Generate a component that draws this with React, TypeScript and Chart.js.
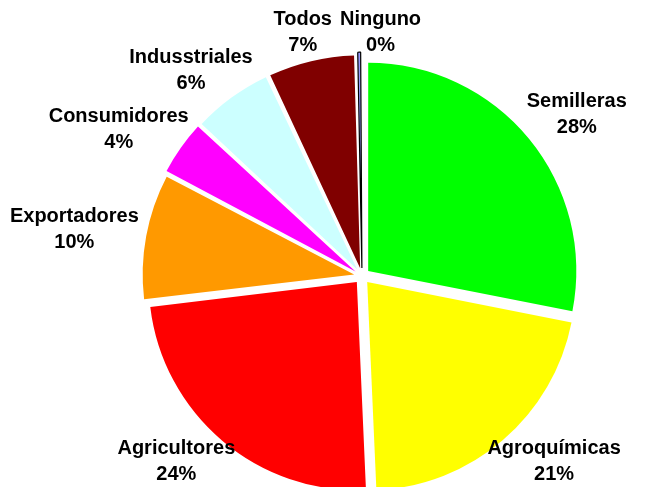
import React, { useEffect, useRef } from "react";
import { Chart, registerables } from "chart.js";

Chart.register(...registerables);

const categories = [
  "Semilleras",
  "Agroquímicas",
  "Agricultores",
  "Exportadores",
  "Consumidores",
  "Indusstriales",
  "Todos",
  "Ninguno",
];
const shares = [28.1, 21.2, 23.8, 9.6, 4.2, 6.1, 6.6, 0.4];
const sliceColors = [
  "#00FF00",
  "#FFFF00",
  "#FF0000",
  "#FF9900",
  "#FF00FF",
  "#CCFFFF",
  "#800000",
  "#9999FF",
];
const sliceBorderWidths = [0, 0, 0, 0, 0, 0, 0, 1.2];

const SHIFT_PX = 8; // visual explode distance (Chart.js divides offset by 4)
const LABEL_GAP = 12;
const LABEL_FONT = 'bold 20px "Liberation Sans", Arial, sans-serif';
const LINE_H = 26;

const labelPlugin = {
  id: "outsideLabels",
  afterDatasetsDraw(chart: any) {
    const ctx = chart.ctx as CanvasRenderingContext2D;
    const meta = chart.getDatasetMeta(0);
    const data = chart.data.datasets[0].data as number[];
    const total = data.reduce((a, b) => a + b, 0);
    ctx.save();
    ctx.font = LABEL_FONT;
    ctx.fillStyle = "#000";
    ctx.textAlign = "center";
    ctx.textBaseline = "middle";
    const placed: { cx: number; cy: number; w: number; h: number }[] = [];
    meta.data.forEach((arc: any, i: number) => {
      const p = arc.getProps(["x", "y", "startAngle", "endAngle", "outerRadius"], true);
      const mid = (p.startAngle + p.endAngle) / 2;
      const dx = Math.cos(mid);
      const dy = Math.sin(mid);
      const R = p.outerRadius + SHIFT_PX + LABEL_GAP;
      const lines = [String(chart.data.labels[i]), Math.round((data[i] / total) * 100) + "%"];
      const w = Math.max(...lines.map((l) => ctx.measureText(l).width));
      const h = LINE_H * lines.length;
      let cx = p.x + dx * R + (dx * w) / 2;
      let cy = p.y + dy * R + (dy * h) / 2;
      cy = Math.max(cy, h / 2 + 6);
      cy = Math.min(cy, chart.height - h / 2);
      for (const b of placed) {
        if (Math.abs(cx - b.cx) < (w + b.w) / 2 + 4 && Math.abs(cy - b.cy) < (h + b.h) / 2) {
          const dir = cx >= b.cx ? 1 : -1;
          cx = b.cx + dir * ((w + b.w) / 2 + 8);
        }
      }
      placed.push({ cx, cy, w, h });
      lines.forEach((t, k) => {
        ctx.fillText(t, cx, cy + (k - (lines.length - 1) / 2) * LINE_H);
      });
    });
    ctx.restore();
  },
};

export default function App() {
  const canvasRef = useRef<HTMLCanvasElement | null>(null);

  useEffect(() => {
    if (!canvasRef.current) return;
    const chart = new Chart(canvasRef.current, {
      type: "pie",
      data: {
        labels: categories,
        datasets: [
          {
            data: shares,
            backgroundColor: sliceColors,
            borderColor: "#000000",
            borderWidth: sliceBorderWidths,
            offset: SHIFT_PX * 4,
            radius: 208,
          } as any,
        ],
      },
      options: {
        animation: false,
        responsive: false,
        layout: { padding: { left: 74, top: 65, right: 0, bottom: 0 } },
        plugins: {
          legend: { display: false },
          tooltip: { enabled: false },
        },
      },
      plugins: [labelPlugin],
    });
    return () => chart.destroy();
  }, []);

  return (
    <div style={{ position: "fixed", left: 0, top: 0, width: 650, height: 487, background: "#fff" }}>
      <canvas ref={canvasRef} width={650} height={487} />
    </div>
  );
}
